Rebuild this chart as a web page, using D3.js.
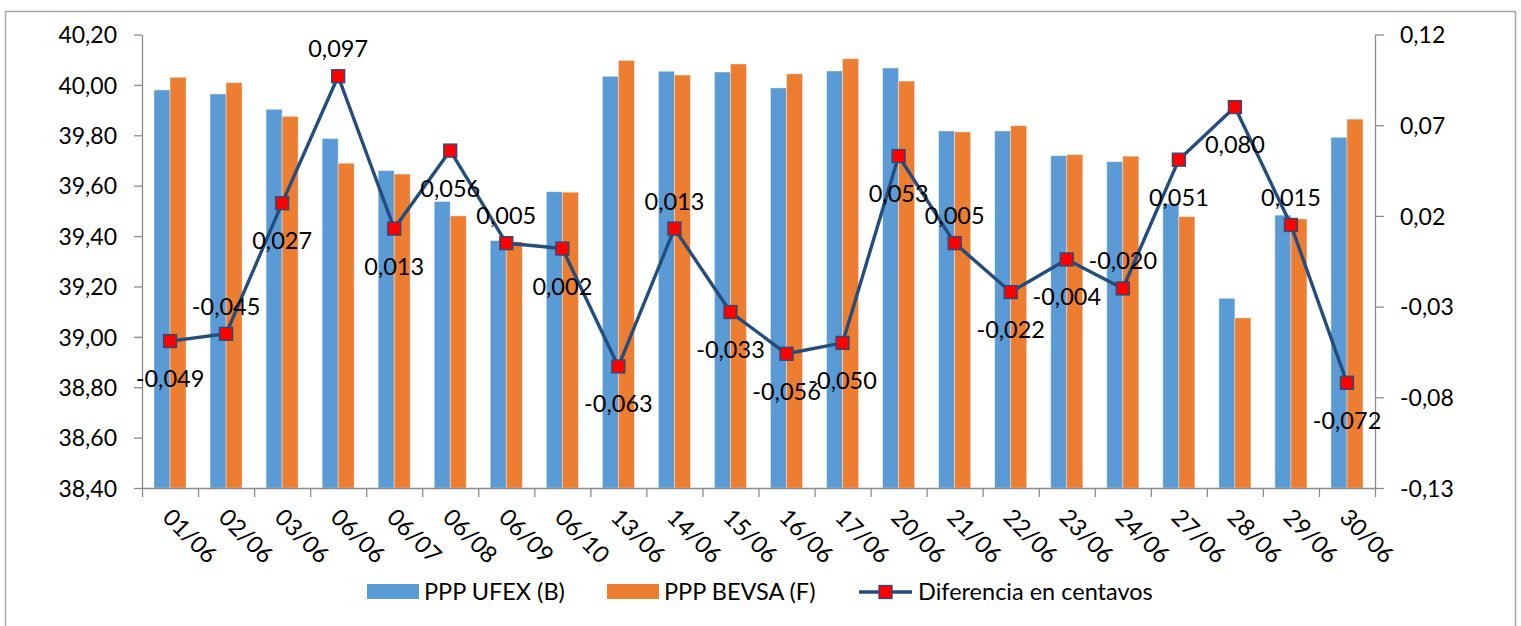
<!DOCTYPE html>
<html lang="es">
<head>
    <meta charset="UTF-8">
    <title>PPP UFEX vs BEVSA</title>
    <script src="https://d3js.org/d3.v7.min.js"></script>
    <style>
        body { margin: 0; background: #fff; }
        text { font-family: Lato, "Open Sans", sans-serif; fill: #000; }
    </style>
</head>
<body>
    <div id="chart"></div>

    <script>
        // data
        const categories = ['01/06', '02/06', '03/06', '06/06', '06/07', '06/08', '06/09', '06/10', '13/06', '14/06', '15/06',
            '16/06', '17/06', '20/06', '21/06', '22/06', '23/06', '24/06', '27/06', '28/06', '29/06', '30/06'];
        const ufex = [39.980, 39.964, 39.903, 39.787, 39.660, 39.537, 39.382, 39.576, 40.034, 40.054, 40.051,
            39.988, 40.055, 40.067, 39.817, 39.817, 39.719, 39.695, 39.529, 39.153, 39.483, 39.792];
        const bevsa = [40.030, 40.009, 39.875, 39.689, 39.646, 39.480, 39.377, 39.574, 40.097, 40.039, 40.083,
            40.044, 40.104, 40.015, 39.813, 39.838, 39.723, 39.717, 39.477, 39.075, 39.468, 39.864];
        const diferencia = [-0.049, -0.045, 0.027, 0.097, 0.013, 0.056, 0.005, 0.002, -0.063, 0.013, -0.033,
            -0.056, -0.050, 0.053, 0.005, -0.022, -0.004, -0.020, 0.051, 0.080, 0.015, -0.072];
        // where excel put each data label: above or below the marker
        const labelPlace = ['below', 'above', 'below', 'above', 'below', 'below', 'above', 'below', 'below', 'above', 'below',
            'below', 'below', 'below', 'above', 'below', 'below', 'above', 'below', 'below', 'above', 'below'];
        const leftTicks = [38.4, 38.6, 38.8, 39.0, 39.2, 39.4, 39.6, 39.8, 40.0, 40.2];
        const rightTicks = [-0.13, -0.08, -0.03, 0.02, 0.07, 0.12];
        const seriesNames = ['PPP UFEX (B)', 'PPP BEVSA (F)', 'Diferencia en centavos'];

        const W = 1521, H = 626;
        const plot = {left: 142, right: 1375, top: 34.5, bottom: 488};
        const colors = {ufex: '#5B9BD5', bevsa: '#ED7D31', line: '#224D7C', marker: '#FF0000', axis: '#8C8C8C'};

        const svg = d3.select('#chart')
            .append('svg')
                .attr('width', W)
                .attr('height', H);

        // outer chart border
        svg.append('rect')
            .attr('x', 5.5).attr('y', 11.5)
            .attr('width', 1510).attr('height', 630)
            .attr('fill', 'none')
            .attr('stroke', '#A6A6A6')
            .attr('stroke-width', 1.5);

        const x = d3.scaleBand()
            .domain(categories)
            .range([plot.left, plot.right])
            .paddingInner(3 / 7)
            .paddingOuter(3 / 14);
        const xSub = d3.scaleBand()
            .domain(['ufex', 'bevsa'])
            .range([0, x.bandwidth()]);
        const xIdx = d3.scaleLinear()
            .domain([0, categories.length])
            .range([plot.left, plot.right]);

        const y = d3.scaleLinear()
            .domain([38.4, 40.2])
            .range([plot.bottom, plot.top]);
        const y2 = d3.scaleLinear()
            .domain([-0.13, 0.12])
            .range([plot.bottom, plot.top]);

        const comma = d => d.toFixed(2).replace('.', ',');

        // bars
        const bars = svg.append('g');
        categories.forEach((c, i) => {
            [['ufex', ufex[i]], ['bevsa', bevsa[i]]].forEach(([k, v]) => {
                bars.append('rect')
                    .attr('x', x(c) + xSub(k))
                    .attr('y', y(v))
                    .attr('width', xSub.bandwidth())
                    .attr('height', y(38.4) - y(v))
                    .attr('fill', colors[k])
                    .attr('stroke', '#fff')
                    .attr('stroke-opacity', 0.45)
                    .attr('stroke-width', 0.8);
            });
        });

        // left axis
        const yAxis = svg.append('g')
            .attr('transform', `translate(${plot.left},0)`)
            .call(d3.axisLeft(y).tickValues(leftTicks).tickFormat(comma).tickSize(8).tickSizeOuter(0).tickPadding(17));
        // right axis
        const y2Axis = svg.append('g')
            .attr('transform', `translate(${plot.right},0)`)
            .call(d3.axisRight(y2).tickValues(rightTicks).tickFormat(comma).tickSize(9).tickSizeOuter(0).tickPadding(16));
        // bottom axis: tick marks between categories
        const xAxis = svg.append('g')
            .attr('transform', `translate(0,${plot.bottom})`)
            .call(d3.axisBottom(xIdx).tickValues(d3.range(categories.length + 1)).tickFormat('').tickSize(9).tickSizeOuter(0));

        [yAxis, y2Axis, xAxis].forEach(a => {
            a.selectAll('path, line').attr('stroke', colors.axis).attr('stroke-width', 1.3);
            a.selectAll('text').style('font-size', '23px').attr('fill', '#000');
        });
        yAxis.selectAll('text').attr('dy', '0.36em');
        y2Axis.selectAll('text').attr('dy', '0.36em');

        // rotated category labels
        svg.append('g')
            .selectAll('text')
            .data(categories)
            .join('text')
                .attr('transform', d => `translate(${x(d) + x.bandwidth() / 2 - 3},${plot.bottom + 25}) rotate(45)`)
                .attr('text-anchor', 'start')
                .attr('dy', '0.35em')
                .style('font-size', '23.5px')
                .text(d => d);

        // difference line
        const pts = categories.map((c, i) => [x(c) + x.bandwidth() / 2, y2(diferencia[i])]);
        svg.append('path')
            .datum(pts)
            .attr('fill', 'none')
            .attr('stroke', colors.line)
            .attr('stroke-width', 3.4)
            .attr('stroke-linejoin', 'round')
            .attr('d', d3.line());

        svg.append('g')
            .selectAll('rect')
            .data(pts)
            .join('rect')
                .attr('x', d => d[0] - 6.5)
                .attr('y', d => d[1] - 6.5)
                .attr('width', 13)
                .attr('height', 13)
                .attr('fill', colors.marker)
                .attr('stroke', colors.line)
                .attr('stroke-width', 1.3);

        // data labels
        svg.append('g')
            .selectAll('text')
            .data(diferencia)
            .join('text')
                .attr('x', (d, i) => pts[i][0])
                .attr('y', (d, i) => pts[i][1] + (labelPlace[i] === 'above' ? -19 : 46))
                .attr('text-anchor', 'middle')
                .style('font-size', '23.5px')
                .text(d => d.toFixed(3).replace('.', ','));

        // legend
        const legend = svg.append('g').attr('transform', 'translate(0,592)');
        legend.append('rect').attr('x', 367).attr('y', -8).attr('width', 52).attr('height', 15).attr('fill', colors.ufex);
        legend.append('text').attr('x', 424).attr('dy', '0.35em').style('font-size', '23.5px').text(seriesNames[0]);
        legend.append('rect').attr('x', 607).attr('y', -8).attr('width', 52).attr('height', 15).attr('fill', colors.bevsa);
        legend.append('text').attr('x', 664).attr('dy', '0.35em').style('font-size', '23.5px').text(seriesNames[1]);
        legend.append('line').attr('x1', 859).attr('x2', 912).attr('y1', 0).attr('y2', 0)
            .attr('stroke', colors.line).attr('stroke-width', 3.4);
        legend.append('rect').attr('x', 879).attr('y', -6.5).attr('width', 13).attr('height', 13)
            .attr('fill', colors.marker).attr('stroke', colors.line).attr('stroke-width', 1.3);
        legend.append('text').attr('x', 918).attr('dy', '0.35em').style('font-size', '23.5px').text(seriesNames[2]);
    </script>
</body>
</html>
